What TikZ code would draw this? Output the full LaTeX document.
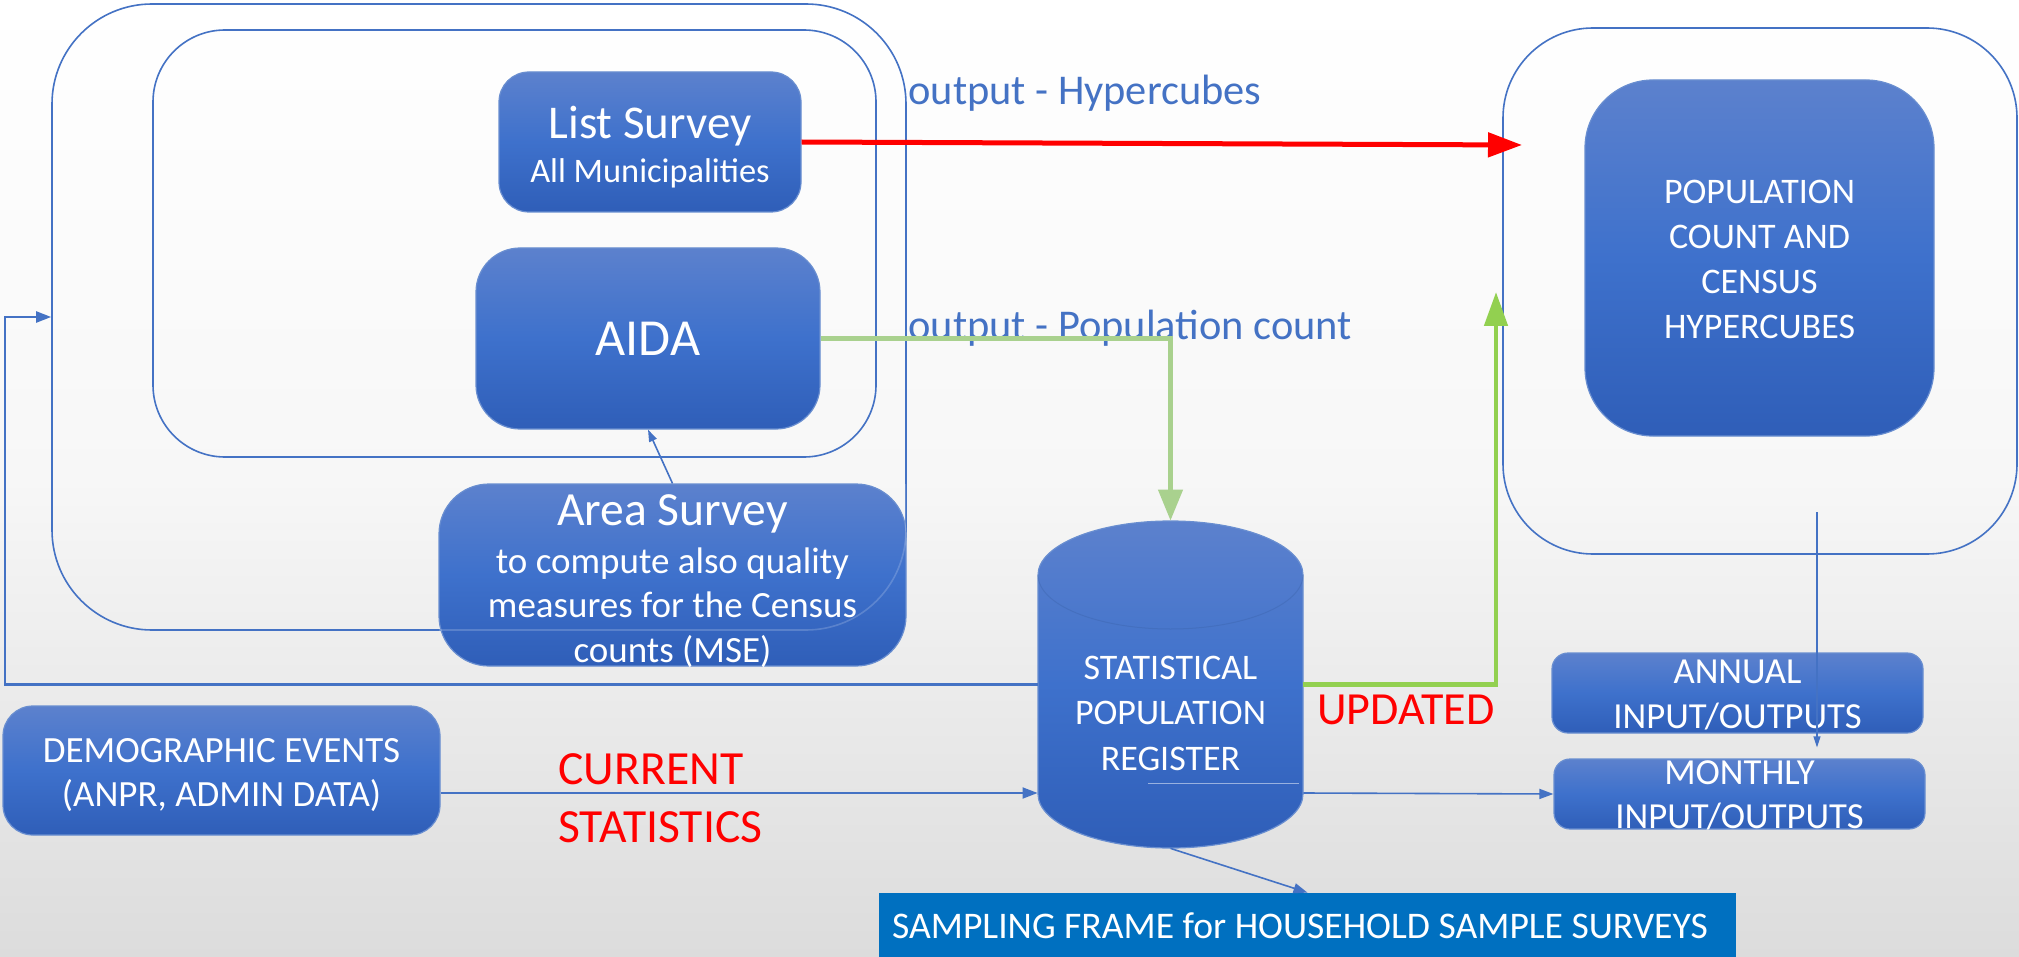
\documentclass[tikz,border=0pt]{standalone}
\usepackage{fontspec}
\setmainfont{Carlito}
\usetikzlibrary{arrows.meta}
\definecolor{ablue}{RGB}{68,114,196}
\definecolor{btop}{RGB}{92,129,205}
\definecolor{bmid}{RGB}{62,113,204}
\definecolor{bbot}{RGB}{47,94,184}
\definecolor{lgreen}{RGB}{169,209,142}
\definecolor{bgreen}{RGB}{146,208,80}
\definecolor{sblue}{RGB}{0,112,192}
\definecolor{bggray}{RGB}{220,220,220}
\definecolor{bgmid}{RGB}{247,247,247}
\newcommand{\fsz}[2]{\fontsize{#1}{#2}\selectfont}
\begin{document}
\begin{tikzpicture}[x=0.5pt,y=-0.5pt,
  frame/.style={draw=ablue, line width=0.8pt, inner sep=0pt},
  bbox/.style={draw=ablue!80!white, line width=0.6pt, top color=btop, bottom color=bbot, middle color=bmid, text=white, align=center, inner sep=0pt},
  btxt/.style={text=white, align=center, inner sep=0pt, anchor=base},
  conn/.style={draw=ablue, line width=0.8pt, -{Triangle[length=6.5pt,width=5pt]}},
  lbl/.style={text=ablue, inner sep=0pt, font=\fsz{21.2pt}{25pt}},
  redlbl/.style={text=red, inner sep=0pt},
]
\useasboundingbox (0,0) rectangle (2019,957);
\shade[top color=white, bottom color=bggray, middle color=bgmid] (0,0) rectangle (2019,957);

% frames
\node[frame, rounded corners=50pt, minimum width=427pt, minimum height=313pt] (outer) at (479,317) {};
\node[frame, rounded corners=36pt, minimum width=361.5pt, minimum height=213.5pt] (inner) at (514.5,243.5) {};
\node[frame, rounded corners=45pt, minimum width=257pt, minimum height=263pt] (rightbox) at (1760,291) {};

% boxes (text anchored at the baseline of its last line)
\node[bbox, rounded corners=15pt, minimum width=151pt, minimum height=70pt] (list) at (650,142) {};
\node[btxt, font=\fsz{17.2pt}{22pt}] (listtxt) at (650,183)
  {{\fsz{23.5pt}{22pt}List Survey}\\All Municipalities};
\node[bbox, rounded corners=22pt, minimum width=172pt, minimum height=90.5pt, font=\fsz{26pt}{30pt}] (aida) at (648,338.5) {AIDA};
\node[bbox, rounded corners=25pt, minimum width=233.5pt, minimum height=91pt] (area) at (672.5,575) {};
\node[btxt, font=\fsz{18.5pt}{22.25pt}] (areatxt) at (672.5,662)
  {{\fsz{23.8pt}{22.25pt}Area Survey}\\[1.75pt]to compute also quality\\measures for the Census\\counts (MSE)};
\begin{scope}
  \clip (439,484) rectangle (906,666);
  \draw[white, opacity=0.18, line width=0.8pt, rounded corners=50pt] (52,4) rectangle (906,630);
\end{scope}
\node[bbox, rounded corners=34pt, minimum width=174.5pt, minimum height=178pt] (pop) at (1759.5,258) {};
\node[btxt, font=\fsz{18pt}{22.35pt}] (poptxt) at (1759.5,338)
  {POPULATION\\COUNT AND\\CENSUS\\HYPERCUBES};
\node[bbox, rounded corners=15pt, minimum width=218.5pt, minimum height=64.5pt] (demo) at (221.5,770.5) {};
\node[btxt, font=\fsz{18.5pt}{22pt}] (demotxt) at (221.5,806)
  {DEMOGRAPHIC EVENTS\\(ANPR, ADMIN DATA)};
\node[bbox, rounded corners=8pt, minimum width=185.5pt, minimum height=40pt] (annual) at (1737.5,693) {};
\node[btxt, font=\fsz{18.35pt}{22.5pt}] (annualtxt) at (1737.5,728.5)
  {ANNUAL\\INPUT/OUTPUTS};
\node[bbox, rounded corners=8pt, minimum width=185.5pt, minimum height=35pt] (monthly) at (1739.5,794) {};
\node[btxt, font=\fsz{18.35pt}{22pt}] (monthlytxt) at (1739.5,828)
  {MONTHLY\\INPUT/OUTPUTS};
\node[fill=sblue, inner sep=0pt, minimum width=428.5pt, minimum height=32pt] (sampling) at (1307.5,925) {};
\node[btxt, font=\fsz{18.8pt}{22pt}] (samplingtxt) at (1300,938)
  {SAMPLING FRAME for HOUSEHOLD SAMPLE SURVEYS};

% cylinder
\shade[top color=btop, bottom color=bbot, middle color=bmid, draw=ablue!80!white, line width=0.6pt]
  (1038,575) -- (1038,794) arc[start angle=180, end angle=360, x radius=66.25pt, y radius=27pt]
  -- (1303,575) arc[start angle=0, end angle=180, x radius=66.25pt, y radius=27pt] -- cycle;
\draw[ablue!85!black, opacity=0.35, line width=0.5pt] (1038,575) arc[start angle=180, end angle=360, x radius=66.25pt, y radius=27pt];
\draw[ablue!55!white, line width=0.5pt] (1148,783) -- (1299,783);
\node[inner sep=0pt, minimum width=132.5pt, minimum height=163.5pt] (spr) at (1170.5,684.5) {};
\node[btxt, font=\fsz{18pt}{22.6pt}] (sprtxt) at (1170.5,770)
  {STATISTICAL\\POPULATION\\REGISTER};

% labels
\node[lbl, anchor=base west] (lblhyp) at (908,105) {output - Hypercubes};
\node[lbl, anchor=base west] (lblpop) at (908,339) {output - Population count};
\node[redlbl, anchor=base west, align=left, font=\fsz{23.8pt}{29pt}] (lblcur) at (558,842) {CURRENT\\STATISTICS};
\node[redlbl, anchor=base west, font=\fsz{23pt}{26pt}] (lblupd) at (1317,724) {UPDATED};

% coordinates
\coordinate (redtip) at (1522,145);
\coordinate (updtip) at (1496,292);
\coordinate (fb) at (5,684.5);
\coordinate (rbout) at (1817,512);

% connectors
\draw[red, line width=2.5pt, -{Triangle[length=17pt,width=12pt]}] (list.east) -- (redtip);
\draw[lgreen, line width=2.2pt, -{Triangle[length=15.5pt,width=12pt]}] (aida.east) -| (spr.north);
\draw[bgreen, line width=2.4pt, -{Triangle[length=17pt,width=11.5pt]}] (spr.east) -| (updtip);
\draw[conn, line width=1.1pt, -{Triangle[length=7.5pt,width=5.5pt]}] (spr.west) -- (fb) |- (outer.west);
\draw[conn, -{Triangle[length=6pt,width=4pt]}] (area.north) -- (aida.south);
\draw[conn, line width=0.9pt, -{Triangle[length=7.5pt,width=5.5pt]}] ([yshift=-11.25pt]demo.east) -- ([yshift=-54.25pt]spr.west);
\draw[conn, -{Triangle[length=7pt,width=5pt]}] ([yshift=-54.25pt]spr.east) -- (monthly.west);
\draw[conn, -{Triangle[length=7pt,width=5pt]}] (spr.south) -- (sampling.north);
\draw[conn, line width=0.6pt, shorten >=5.5pt, -{Triangle[length=5.5pt,width=3.5pt]}] (rbout) -- (rbout |- monthly.north);
\end{tikzpicture}
\end{document}
